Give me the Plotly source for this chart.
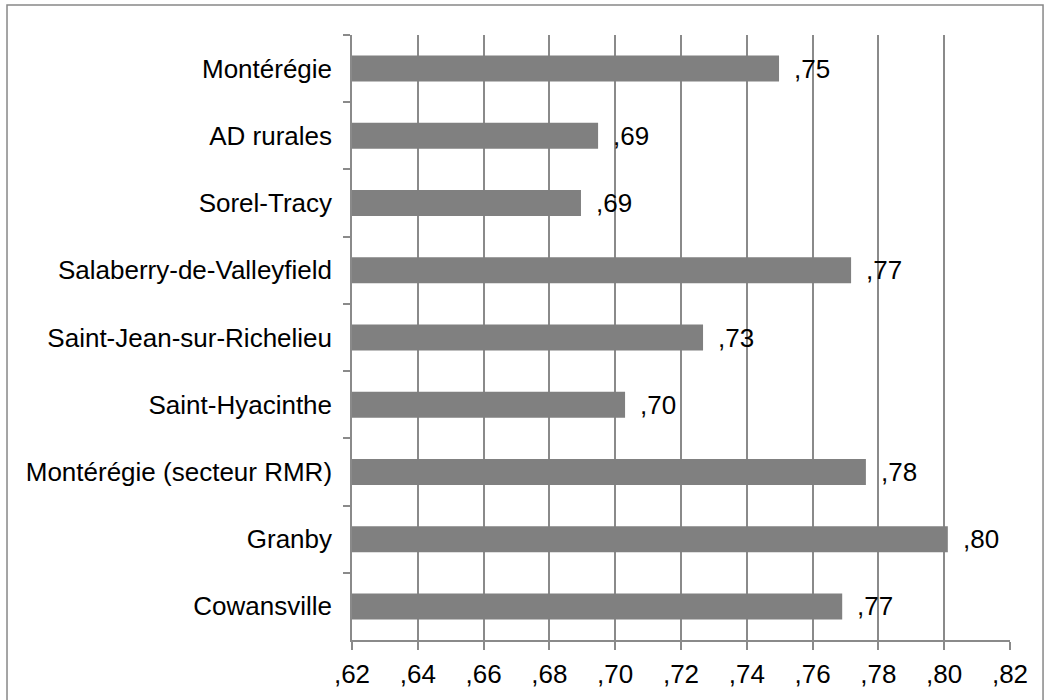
import plotly.graph_objects as go

# Categories, top to bottom
categories = [
    "Montérégie",
    "AD rurales",
    "Sorel-Tracy",
    "Salaberry-de-Valleyfield",
    "Saint-Jean-sur-Richelieu",
    "Saint-Hyacinthe",
    "Montérégie (secteur RMR)",
    "Granby",
    "Cowansville",
]
values = [0.7498, 0.6948, 0.6896, 0.7717, 0.7267, 0.7030, 0.7762, 0.8011, 0.7690]

tick_values = [0.62, 0.64, 0.66, 0.68, 0.70, 0.72, 0.74, 0.76, 0.78, 0.80, 0.82]
tick_labels = [",62", ",64", ",66", ",68", ",70", ",72", ",74", ",76", ",78", ",80", ",82"]


def fmt(v):
    # ",75" style: two decimals, no leading zero, comma separator
    return f"{v:.2f}"[1:].replace(".", ",")


FONT = "Liberation Sans, Arial, sans-serif"
FS = 26
GRID = "#8a8a8a"
BAR = "#808080"

fig = go.Figure()
fig.add_trace(
    go.Bar(
        y=categories,
        x=values,
        orientation="h",
        marker=dict(color=BAR, line=dict(width=0)),
        hoverinfo="skip",
    )
)

# value labels placed just past each bar end
for cat, v in zip(categories, values):
    fig.add_annotation(
        x=v, y=cat, xref="x", yref="y",
        text=fmt(v), showarrow=False,
        xanchor="left", yanchor="middle", xshift=13,
        font=dict(family=FONT, size=FS, color="black"),
    )

# outer chart border
fig.add_shape(
    type="rect", xref="paper", yref="paper",
    x0=-0.5243, x1=1.0502, y0=-0.105, y1=1.0496,
    line=dict(color="#888888", width=1.5), fillcolor="rgba(0,0,0,0)", layer="below",
)

fig.update_layout(
    width=1051, height=700,
    margin=dict(l=352, r=41, t=35, b=60),
    paper_bgcolor="white", plot_bgcolor="white",
    bargap=0.613,
    showlegend=False,
    font=dict(family=FONT, size=FS, color="black"),
    xaxis=dict(
        range=[0.62, 0.82],
        tickvals=tick_values, ticktext=tick_labels,
        showgrid=True, gridcolor=GRID, gridwidth=1.5,
        showline=True, linecolor=GRID, linewidth=1.5,
        ticks="outside", ticklen=8, tickcolor=GRID, tickwidth=1.5,
        zeroline=False,
        ticklabelstandoff=2,
        tickfont=dict(family=FONT, size=FS, color="black"),
    ),
    yaxis=dict(
        categoryorder="array", categoryarray=categories,
        autorange="reversed",
        showgrid=False,
        showline=True, linecolor=GRID, linewidth=1.5,
        ticks="outside", ticklen=7, tickcolor=GRID, tickwidth=1.5,
        tickson="boundaries",
        ticklabelstandoff=13,
        tickfont=dict(family=FONT, size=FS, color="black"),
    ),
)

fig.write_html("out.html")
